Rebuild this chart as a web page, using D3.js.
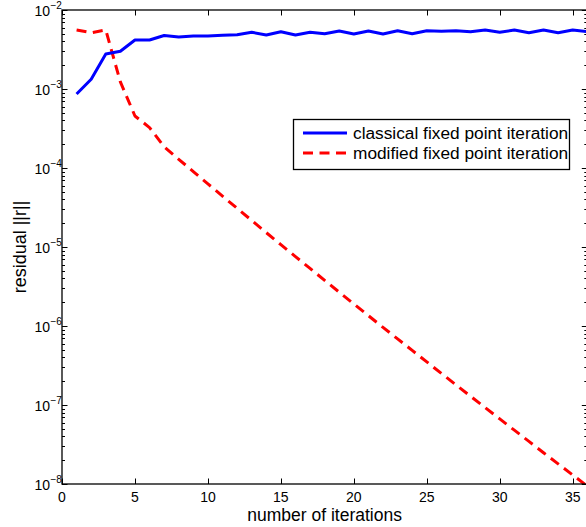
<!DOCTYPE html>
<html>
<head>
<meta charset="utf-8">
<script src="https://cdn.jsdelivr.net/npm/d3@7/dist/d3.min.js"></script>
<style>
  html, body { margin: 0; padding: 0; background: #fff; }
  svg { display: block; font-family: "Liberation Sans", Arial, Helvetica, sans-serif; }
</style>
</head>
<body>
<svg id="chart" width="586" height="527"></svg>
<script>
// ---- data ----
const iterations = [1,2,3,4,5,6,7,8,9,10,11,12,13,14,15,16,17,18,19,20,21,22,23,24,25,26,27,28,29,30,31,32,33,34,35,36];
const classical = [8.65e-4,1.33e-3,2.77e-3,3.0e-3,4.17e-3,4.17e-3,4.75e-3,4.55e-3,4.69e-3,4.69e-3,
  4.78e-3,4.87e-3,5.22e-3,4.83e-3,5.31e-3,4.83e-3,5.22e-3,5.01e-3,5.42e-3,4.97e-3,
  5.42e-3,4.97e-3,5.47e-3,5.01e-3,5.47e-3,5.37e-3,5.47e-3,5.31e-3,5.58e-3,5.22e-3,
  5.58e-3,5.16e-3,5.58e-3,5.16e-3,5.58e-3,5.31e-3];
const modified = [5.58e-3,5.16e-3,5.58e-3,1.23e-3,4.55e-4,3.25e-4,1.86e-4,1.29e-4,9.0e-5,6.3e-5,
  4.4e-5,3.09e-5,2.17e-5,1.52e-5,1.07e-5,7.57e-6,5.35e-6,3.78e-6,2.68e-6,1.90e-6,
  1.35e-6,9.6e-7,6.87e-7,4.91e-7,3.51e-7,2.51e-7,1.80e-7,1.29e-7,9.27e-8,6.67e-8,
  4.80e-8,3.46e-8,2.49e-8,1.80e-8,1.30e-8,9.4e-9];
const xTicks = [0,5,10,15,20,25,30,35];
const yTickExponents = [-8,-7,-6,-5,-4,-3,-2];
const seriesNames = ["classical fixed point iteration", "modified fixed point iteration"];
const xLabel = "number of iterations";
const yLabel = "residual ||r||";

(function () {
// ---- layout ----
const svg = d3.select("#chart");
const pL = 62, pR = 587.3, pT = 10, pB = 484;
const x = d3.scaleLinear().domain([0, 36]).range([pL, pR]);
const y = d3.scaleLog().domain([1e-8, 1e-2]).range([pB, pT]);

svg.append("defs").append("clipPath").attr("id", "clip")
  .append("rect").attr("x", pL).attr("y", pT).attr("width", pR - pL).attr("height", pB - pT);

// minor + major log ticks
const minorVals = [];
for (let e = -8; e < -2; e++) for (let m = 2; m <= 9; m++) minorVals.push(m * Math.pow(10, e));
const majorVals = yTickExponents.map(e => Math.pow(10, e));

const axes = svg.append("g").attr("stroke", "#000").attr("stroke-width", 1).attr("fill", "none");
[[pL, 1], [pR, -1]].forEach(([px, dir]) => {
  axes.selectAll(null).data(minorVals).enter().append("line")
    .attr("x1", px).attr("x2", px + dir * 3)
    .attr("y1", d => Math.round(y(d)) + 0.5).attr("y2", d => Math.round(y(d)) + 0.5);
  axes.selectAll(null).data(majorVals).enter().append("line")
    .attr("x1", px).attr("x2", px + dir * 5.5)
    .attr("y1", d => Math.round(y(d)) + 0.5).attr("y2", d => Math.round(y(d)) + 0.5);
});
[[pB, -1], [pT, 1]].forEach(([py, dir]) => {
  axes.selectAll(null).data(xTicks).enter().append("line")
    .attr("x1", d => Math.round(x(d)) + 0.5).attr("x2", d => Math.round(x(d)) + 0.5)
    .attr("y1", py).attr("y2", py + dir * 5.5);
});

// data lines
const line = d3.line().x((d, i) => x(iterations[i])).y(d => y(d));
const plot = svg.append("g").attr("clip-path", "url(#clip)");
plot.append("path").datum(modified).attr("d", line)
  .attr("fill", "none").attr("stroke", "#ff0000").attr("stroke-width", 3)
  .attr("stroke-dasharray", "10,6.5").attr("stroke-linejoin", "round");
plot.append("path").datum(classical).attr("d", line)
  .attr("fill", "none").attr("stroke", "#0000ff").attr("stroke-width", 3)
  .attr("stroke-linejoin", "round");

// axis box
svg.append("rect").attr("x", pL).attr("y", pT).attr("width", pR - pL).attr("height", pB - pT)
  .attr("fill", "none").attr("stroke", "#000").attr("stroke-width", 1.3);

// x tick labels
svg.append("g").selectAll("text").data(xTicks).enter().append("text")
  .attr("x", d => x(d)).attr("y", 502).attr("text-anchor", "middle")
  .attr("font-size", 14).attr("fill", "#000").text(d => d);

// y tick labels
const yl = svg.append("g").attr("fill", "#000");
yTickExponents.forEach(e => {
  const py = y(Math.pow(10, e));
  yl.append("text").attr("x", 50).attr("y", py + 5.5).attr("text-anchor", "end")
    .attr("font-size", 14).text("10");
  yl.append("text").attr("x", 50.5).attr("y", py - 1).attr("text-anchor", "start")
    .attr("font-size", 10).text(String(e).replace("-", "\u2212"));
});

// axis labels
svg.append("text").attr("x", (pL + pR) / 2).attr("y", 521).attr("text-anchor", "middle")
  .attr("font-size", 17.5).attr("fill", "#000").text(xLabel);
svg.append("text").attr("transform", `translate(26,${(pT + pB) / 2}) rotate(-90)`)
  .attr("text-anchor", "middle").attr("font-size", 18).attr("fill", "#000").text(yLabel);

// legend
const lg = svg.append("g");
lg.append("rect").attr("x", 293.5).attr("y", 119.5).attr("width", 276).attr("height", 50)
  .attr("fill", "#fff").attr("stroke", "#000").attr("stroke-width", 1.3);
const legendColors = ["#0000ff", "#ff0000"];
const legendDash = [null, "10,6.5"];
seriesNames.forEach((name, i) => {
  const ly = 133 + i * 20;
  lg.append("line").attr("x1", 303).attr("x2", 347).attr("y1", ly).attr("y2", ly)
    .attr("stroke", legendColors[i]).attr("stroke-width", 3)
    .attr("stroke-dasharray", legendDash[i]);
  lg.append("text").attr("x", 353).attr("y", ly + 6.3).attr("font-size", 17.3)
    .attr("fill", "#000").text(name);
});
})();
</script>
</body>
</html>
